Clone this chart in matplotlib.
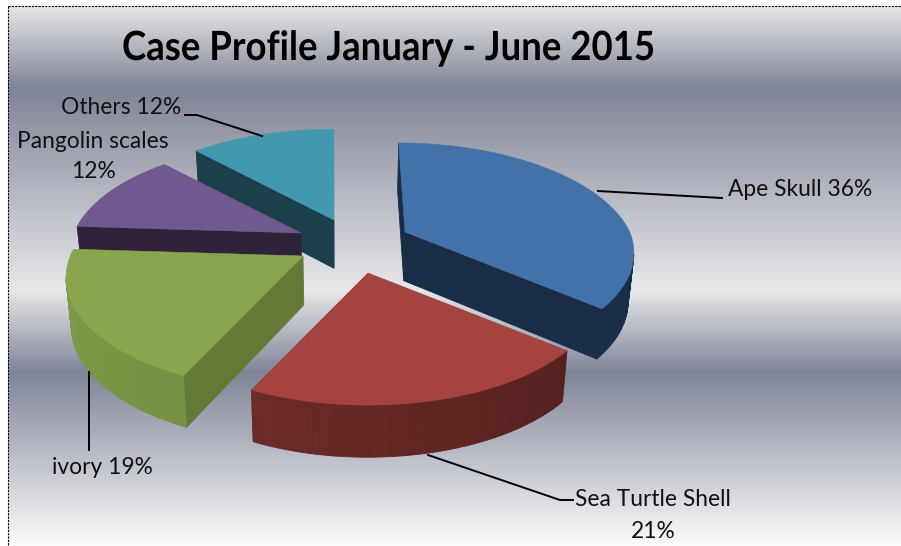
import numpy as np
import matplotlib
matplotlib.use("Agg")
import matplotlib.pyplot as plt
import matplotlib.patheffects as pe
from matplotlib.colors import LinearSegmentedColormap, to_rgb
from matplotlib.patches import Polygon
from matplotlib.transforms import Affine2D

plt.rcParams['font.family'] = ['Lato', 'DejaVu Sans']

categories = ["Ape Skull", "Sea Turtle Shell", "ivory", "Pangolin scales", "Others"]
shares = [36, 21, 19, 12, 12]

top_colors = ["#4372a8", "#a44340", "#89a54e", "#71588f", "#4298af"]
wall_colors = ["#1a2d47", "#4a1b19", "#667a38", "#2f2239", "#1b3f4b"]
arc_start_colors = ["#1a2d47", "#4a1b19", "#667a38", "#2f2239", "#1b3f4b"]
arc_end_colors = ["#1a2d47", "#7e3431", "#809c4a", "#2f2239", "#1b3f4b"]

# where the tip of each exploded slice ends up, in pixels
apex = [(405, 232), (368, 273), (303, 256), (301, 233), (334, 220)]
slice_scale = [0.99, 1.0, 1.025, 1.0, 1.01]
draw_order = [4, 3, 0, 2, 1]

# perspective of the pie floor
RX, RY, PERSP = 227, 107, 0.19
DEPTH = 49
VANISH_X = 340


class Squeeze(pe.AbstractPathEffect):
    # narrows the glyphs, the title font in the original is more condensed
    def __init__(self, factor):
        super().__init__()
        self.factor = factor

    def draw_path(self, renderer, gc, tpath, affine, rgbFace=None):
        renderer.draw_path(gc, tpath, Affine2D().scale(self.factor, 1) + affine, rgbFace)


def project(theta, center, scale):
    s = 1 / (1 + PERSP * np.cos(theta))
    lean = max(center[0] - VANISH_X, 0) * min(s - 1, 0) * 0.6
    return (center[0] + lean + scale * RX * np.sin(theta) * s,
            center[1] - scale * RY * np.cos(theta) * s)


def drop(x, y):
    return VANISH_X + (x - VANISH_X) * 0.98, y + DEPTH + 0.02 * (y - 250)


def faces_down(p, q, inside):
    n = np.array([-(q[1] - p[1]), q[0] - p[0]], dtype=float)
    if n.dot(np.array(inside) - np.array(p)) > 0:
        n = -n
    return n[1] > 0


def quad(ax, p, q, color, z):
    px, py = drop(*p)
    qx, qy = drop(*q)
    ax.add_patch(Polygon([p, q, (qx, qy), (px, py)], closed=True, facecolor=color,
                         edgecolor=color, linewidth=0.6, zorder=z))


fig = plt.figure(figsize=(9.01, 5.46), dpi=100, facecolor="white")
ax = fig.add_axes([0, 0, 1, 1])
ax.axis("off")

# background bands
stop_y = [6, 88, 290, 373, 546]
stop_c = ["#e4e4e6", "#7f8496", "#e8e8ea", "#7f8498", "#fbfbfb"]
cmap = LinearSegmentedColormap.from_list(
    "bands", [((y - 6) / 540, c) for y, c in zip(stop_y, stop_c)])
grad = np.linspace(0, 1, 540).reshape(-1, 1)
ax.imshow(grad, extent=(8, 901, 546, 6), cmap=cmap, aspect="auto", zorder=0)
ax.set_xlim(0, 901)
ax.set_ylim(546, 0)
ax.plot([8, 8], [6, 546], color="black", lw=0.8, ls=(0, (2, 1)), zorder=1)
ax.plot([8, 901], [6, 6], color="black", lw=0.8, ls=(0, (2, 1)), zorder=1)

# slices, clockwise from twelve o'clock
edges = np.cumsum([0] + shares) / sum(shares) * 2 * np.pi
z = 2
for i in draw_order:
    t0, t1 = edges[i], edges[i + 1]
    c = apex[i]
    thetas = np.linspace(t0, t1, 80)
    arc = [project(t, c, slice_scale[i]) for t in thetas]
    mid = project((t0 + t1) / 2, c, slice_scale[i])
    inside = ((c[0] + mid[0]) / 2, (c[1] + mid[1]) / 2)

    for end in (arc[0], arc[-1]):
        if faces_down(c, end, inside):
            quad(ax, c, end, wall_colors[i], z)
    z += 1
    c0, c1 = np.array(to_rgb(arc_start_colors[i])), np.array(to_rgb(arc_end_colors[i]))
    for k in range(len(arc) - 1):
        if faces_down(arc[k], arc[k + 1], c):
            f = np.clip((thetas[k] - np.pi / 2) / np.pi, 0, 1)
            quad(ax, arc[k], arc[k + 1], tuple(c0 + (c1 - c0) * f), z)
    z += 1
    ax.add_patch(Polygon([c] + arc, closed=True, facecolor=top_colors[i],
                         edgecolor=top_colors[i], linewidth=0.4, zorder=z))
    z += 1

# leader lines
leaders = [
    ([598, 722], [191, 198]),
    ([428, 560, 573], [455, 500, 500]),
    ([89, 89], [372, 450]),
    ([185, 197, 262], [115, 115, 136]),
]
for xs, ys in leaders:
    ax.plot(xs, ys, color="black", lw=1.4, zorder=30)

fs = 16.4
lab = dict(color="#111111", fontsize=fs, va="center", zorder=31)
ax.text(728, 190, f"{categories[0]} {shares[0]}%", ha="left", **lab)
ax.text(653, 499, categories[1], ha="center", **lab)
ax.text(653, 531, f"{shares[1]}%", ha="center", **lab)
ax.text(102, 468, f"{categories[2]} {shares[2]}%", ha="center", **lab)
ax.text(93, 141, categories[3], ha="center", **lab)
ax.text(93, 171, f"{shares[3]}%", ha="center", **lab)
ax.text(121, 107, f"{categories[4]} {shares[4]}%", ha="center", **lab)

title = ax.text(122, 60, "Case Profile January - June 2015", ha="left", va="baseline",
                fontsize=29, fontweight="bold", color="black", zorder=31)
title.set_path_effects([Squeeze(0.908)])

fig.savefig("out.png", dpi=100)
